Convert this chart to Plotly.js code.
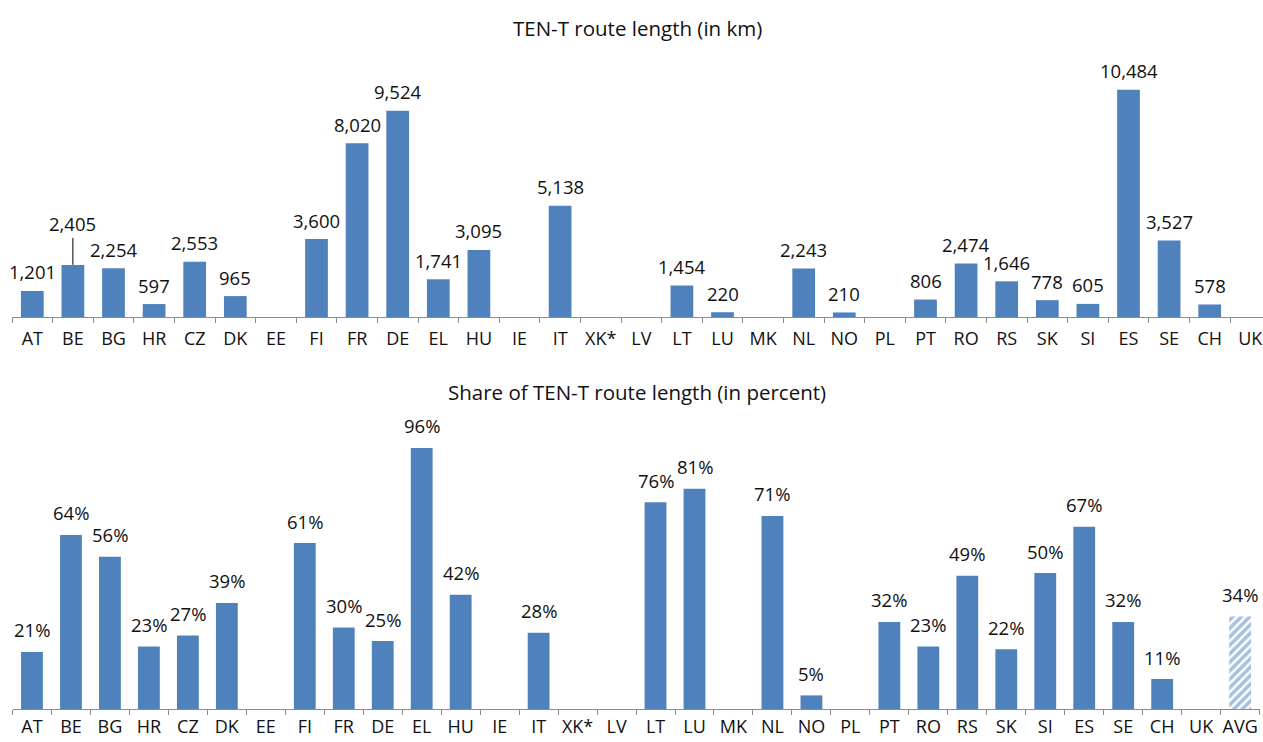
<!DOCTYPE html>
<html>
<head>
<meta charset="utf-8">
<script src="https://cdn.plot.ly/plotly-3.0.1.min.js"></script>
<style>
  html, body { margin: 0; padding: 0; background: #fff; }
  #chart { width: 1263px; height: 742px; }
</style>
</head>
<body>
<div id="chart"></div>
<script>
// Country codes for the route-length panel
const countries = ["AT","BE","BG","HR","CZ","DK","EE","FI","FR","DE","EL","HU","IE","IT","XK*","LV","LT","LU","MK","NL","NO","PL","PT","RO","RS","SK","SI","ES","SE","CH","UK"];
// TEN-T route length in km (null = no data)
const routeKm = [1201,2405,2254,597,2553,965,null,3600,8020,9524,1741,3095,null,5138,null,null,1454,220,null,2243,210,null,806,2474,1646,778,605,10484,3527,578,null];
// Share panel adds the average column
const shareCategories = countries.concat(["AVG"]);
// Share of TEN-T route length in percent
const sharePct = [21,64,56,23,27,39,null,61,30,25,96,42,null,28,null,null,76,81,null,71,5,null,32,23,49,22,50,67,32,11,null,34];

const W = 1263, H = 742;
const blue = "#4F81BD";
const font = "'Open Sans', sans-serif";
const labelSize = 18.5;
const tickSize = 18;
const titleSize = 20.5;

// Countries drawn solid, the average drawn hatched
const avgIdx = shareCategories.indexOf("AVG");
const countryShare = sharePct.map((v, i) => i === avgIdx ? null : v);
const avgShare = sharePct.map((v, i) => i === avgIdx ? v : null);

const traces = [
  {
    type: "bar", x: countries, y: routeKm, xaxis: "x", yaxis: "y",
    marker: { color: blue }, hoverinfo: "none"
  },
  {
    type: "bar", x: shareCategories, y: countryShare, xaxis: "x2", yaxis: "y2",
    marker: { color: blue }, hoverinfo: "none"
  },
  {
    type: "bar", x: shareCategories, y: avgShare, xaxis: "x2", yaxis: "y2",
    marker: {
      color: "#ffffff",
      line: { width: 0 },
      pattern: { shape: "/", fgcolor: blue, bgcolor: "#ffffff", size: 6, solidity: 0.6, fillmode: "overlay" }
    },
    hoverinfo: "none"
  }
];

// Value labels above each bar
const annotations = [];
countries.forEach((c, i) => {
  const v = routeKm[i];
  if (v == null) return;
  const a = {
    x: c, y: v, xref: "x", yref: "y",
    text: v.toLocaleString("en-US"),
    showarrow: false, yanchor: "middle", yshift: 19,
    font: { family: font, size: labelSize, color: "#111" }
  };
  if (c === "BE") {
    // BE label lifted clear of its neighbours with a leader line
    Object.assign(a, { showarrow: true, arrowhead: 0, arrowwidth: 1, arrowcolor: "#000",
                       ax: 0, ay: -41, yshift: 0, standoff: 0 });
  }
  annotations.push(a);
});
shareCategories.forEach((c, i) => {
  const v = sharePct[i];
  if (v == null) return;
  annotations.push({
    x: c, y: v, xref: "x2", yref: "y2",
    text: v + "%",
    showarrow: false, yanchor: "middle", yshift: 22,
    font: { family: font, size: labelSize, color: "#111" }
  });
});

// Panel titles
annotations.push({
  text: "TEN-T route length (in km)", xref: "paper", yref: "paper",
  x: 637 / W, y: 1 - 28 / H, showarrow: false, xanchor: "center", yanchor: "middle",
  font: { family: font, size: titleSize, color: "#111" }
});
annotations.push({
  text: "Share of TEN-T route length (in percent)", xref: "paper", yref: "paper",
  x: 637 / W, y: 1 - 392 / H, showarrow: false, xanchor: "center", yanchor: "middle",
  font: { family: font, size: titleSize, color: "#111" }
});

const xCommon = {
  type: "category",
  showgrid: false, zeroline: false,
  showline: true, linecolor: "#8c8c8c", linewidth: 1,
  ticks: "outside", tickson: "boundaries", ticklen: 5, tickcolor: "#8c8c8c",
  tickangle: 0,
  tickfont: { family: font, size: tickSize, color: "#111" },
  fixedrange: true
};
const yCommon = {
  visible: false, showgrid: false, zeroline: false, fixedrange: true
};

const layout = {
  width: W, height: H,
  margin: { l: 0, r: 0, t: 0, b: 0 },
  paper_bgcolor: "#fff", plot_bgcolor: "#fff",
  showlegend: false,
  barmode: "overlay",
  bargap: 0.44,
  xaxis: Object.assign({}, xCommon, {
    domain: [12 / W, 1], range: [-0.5, -0.5 + (W - 12) / 40.6], anchor: "y",
    ticklabelstandoff: 5
  }),
  yaxis: Object.assign({}, yCommon, {
    domain: [1 - 317 / H, 1 - 57 / H], range: [0, 12000], anchor: "x"
  }),
  xaxis2: Object.assign({}, xCommon, {
    domain: [12.5 / W, 1259.6 / W], range: [-0.5, 31.5], anchor: "y2",
    ticklabelstandoff: 1
  }),
  yaxis2: Object.assign({}, yCommon, {
    domain: [1 - 709 / H, 1 - 437 / H], range: [0, 100], anchor: "x2"
  }),
  annotations: annotations
};

Plotly.newPlot("chart", traces, layout, { staticPlot: true, displayModeBar: false });
</script>
</body>
</html>
